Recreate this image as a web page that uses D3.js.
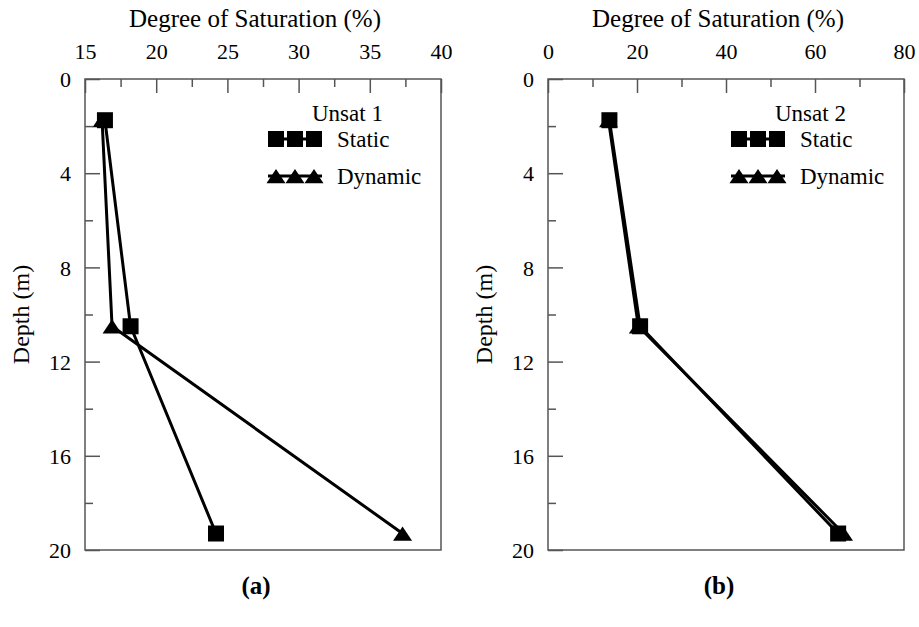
<!DOCTYPE html>
<html>
<head>
<meta charset="utf-8">
<script src="https://cdn.jsdelivr.net/npm/d3@7"></script>
<style>
  html, body { margin: 0; padding: 0; background: #fff; }
  svg { display: block; }
  svg text { font-family: "Liberation Serif", "Times New Roman", serif; fill: #000; }
</style>
</head>
<body>
<svg id="chart" width="919" height="627"></svg>
<script>
// Depth of each measurement point (m), shared by every series
const depths = [1.75, 10.5, 19.3];

// Panel (a): Unsat 1
const unsat1Static  = [16.4, 18.2, 24.2];
const unsat1Dynamic = [16.2, 16.9, 37.3];
const unsat1XTicks  = [15, 20, 25, 30, 35, 40];
const unsat1XMinor  = [17.5, 22.5, 27.5, 32.5, 37.5];

// Panel (b): Unsat 2
const unsat2Static  = [13.8, 20.7, 65.2];
const unsat2Dynamic = [13.6, 20.3, 66.4];
const unsat2XTicks  = [0, 20, 40, 60, 80];
const unsat2XMinor  = [10, 30, 50, 70];

const depthTicks = [0, 4, 8, 12, 16, 20];
const depthMinor = [2, 6, 10, 14, 18];

const seriesNames = ["Static", "Dynamic"];

const svg = d3.select("#chart");
const plotTop = 79, plotBottom = 550;
const serif = "'Liberation Serif', 'Times New Roman', serif";

const panels = [
  { left: 85,  right: 441, domain: [15, 40], ticks: unsat1XTicks, minor: unsat1XMinor,
    title: "Unsat 1", label: "(a)", labelX: 256, stat: unsat1Static, dyn: unsat1Dynamic },
  { left: 548, right: 904, domain: [0, 80], ticks: unsat2XTicks, minor: unsat2XMinor,
    title: "Unsat 2", label: "(b)", labelX: 719, stat: unsat2Static, dyn: unsat2Dynamic }
];

const frameColor = "#555";
const y = d3.scaleLinear().domain([0, 20]).range([plotTop, plotBottom]);

function square(g, cx, cy, s) {
  g.append("rect").attr("x", cx - s / 2).attr("y", cy - s / 2)
    .attr("width", s).attr("height", s).attr("fill", "#000");
}
function triangle(g, cx, cy, s) {
  const h = s * 0.75;
  g.append("path")
    .attr("d", `M${cx - s / 2},${cy + h / 2}L${cx + s / 2},${cy + h / 2}L${cx},${cy - h / 2}Z`)
    .attr("fill", "#000");
}

panels.forEach(p => {
  const x = d3.scaleLinear().domain(p.domain).range([p.left, p.right]);
  const g = svg.append("g");

  // top axis: major ticks with labels, minor ticks without
  const xAxis = g.append("g").attr("transform", `translate(0,${plotTop})`)
    .call(d3.axisTop(x).tickValues(p.ticks).tickSize(-14).tickPadding(20).tickFormat(d3.format("d")));
  const xMinor = g.append("g").attr("transform", `translate(0,${plotTop})`)
    .call(d3.axisTop(x).tickValues(p.minor).tickSize(-8).tickFormat(""));

  // left axis: depth
  const yAxis = g.append("g").attr("transform", `translate(${p.left},0)`)
    .call(d3.axisLeft(y).tickValues(depthTicks).tickSize(-15).tickPadding(14).tickFormat(d3.format("d")));
  const yMinor = g.append("g").attr("transform", `translate(${p.left},0)`)
    .call(d3.axisLeft(y).tickValues(depthMinor).tickSize(-8).tickFormat(""));

  [xAxis, xMinor, yAxis, yMinor].forEach(a => {
    a.attr("font-family", serif).attr("font-size", 22);
    a.select(".domain").remove();
    a.selectAll("line").attr("stroke", frameColor).attr("stroke-width", 1.5);
    a.selectAll("text").attr("fill", "#000");
  });
  yAxis.selectAll("text").attr("dy", "0.35em");

  // frame
  g.append("rect").attr("x", p.left).attr("y", plotTop)
    .attr("width", p.right - p.left).attr("height", plotBottom - plotTop)
    .attr("fill", "none").attr("stroke", frameColor).attr("stroke-width", 1.5);

  // axis titles
  g.append("text").attr("x", (p.left + p.right) / 2 - 8).attr("y", 27)
    .attr("text-anchor", "middle").attr("font-size", 25).text("Degree of Saturation (%)");
  g.append("text").attr("transform", `translate(${p.left - 56},${(plotTop + plotBottom) / 2}) rotate(-90)`)
    .attr("text-anchor", "middle").attr("font-size", 24).text("Depth (m)");

  // data lines
  const line = d3.line().x(d => x(d[0])).y(d => y(d[1]));
  const statPts = p.stat.map((v, i) => [v, depths[i]]);
  const dynPts = p.dyn.map((v, i) => [v, depths[i]]);
  [statPts, dynPts].forEach(pts => {
    g.append("path").attr("d", line(pts)).attr("fill", "none")
      .attr("stroke", "#000").attr("stroke-width", 3).attr("stroke-linejoin", "round");
  });
  dynPts.forEach(d => triangle(g, x(d[0]), y(d[1]), 19));
  statPts.forEach(d => square(g, x(d[0]), y(d[1]), 16));

  // legend
  const lx0 = p.right - 173, lx1 = p.right - 119;
  g.append("text").attr("x", p.right - 129).attr("y", 121).attr("font-size", 23).text(p.title);
  const rows = [{ name: seriesNames[0], yy: 139, mark: square, size: 16 },
                { name: seriesNames[1], yy: 176, mark: triangle, size: 19 }];
  rows.forEach(r => {
    g.append("line").attr("x1", lx0).attr("x2", lx1).attr("y1", r.yy).attr("y2", r.yy)
      .attr("stroke", "#000").attr("stroke-width", 3);
    [lx0 + 8, (lx0 + lx1) / 2, lx1 - 8].forEach(cx => r.mark(g, cx, r.yy, r.size));
    g.append("text").attr("x", lx1 + 15).attr("y", r.yy + 8).attr("font-size", 23).text(r.name);
  });

  // panel label
  g.append("text").attr("x", p.labelX).attr("y", 594).attr("text-anchor", "middle")
    .attr("font-size", 25).attr("font-weight", "bold").text(p.label);
});
</script>
</body>
</html>
